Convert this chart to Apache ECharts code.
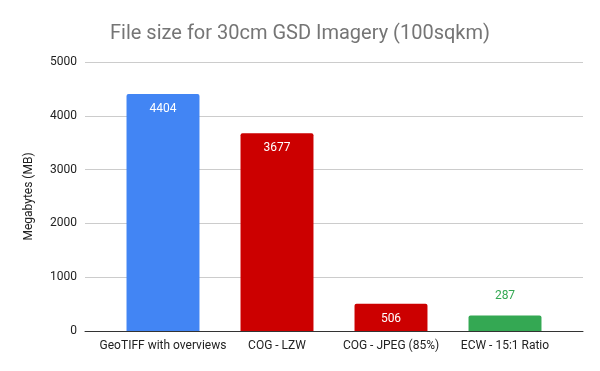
<!DOCTYPE html>
<html><head><meta charset="utf-8">
<script src="https://cdn.jsdelivr.net/npm/echarts@6/dist/echarts.min.js"></script>
<style>html,body{margin:0;padding:0;background:#fff}#c{width:600px;height:371px}</style>
</head><body><div id="c"></div>
<script>
const categories = ["GeoTIFF with overviews", "COG - LZW", "COG - JPEG (85%)", "ECW - 15:1 Ratio"];
const values = [4404, 3677, 506, 287];
const barColors = ["#4285F4", "#CC0000", "#CC0000", "#34A853"];
const labelInside = [true, true, true, false];
const yTicks = [0, 1000, 2000, 3000, 4000, 5000];

const yMin = yTicks[0], yMax = yTicks[yTicks.length - 1];
const chart = echarts.init(document.getElementById('c'), null, {renderer: 'canvas'});
chart.setOption({
  animation: false,
  backgroundColor: '#ffffff',
  title: {
    text: 'File size for 30cm GSD Imagery (100sqkm)',
    left: 'center', top: 19,
    textStyle: {fontFamily: 'Roboto', fontSize: 20, fontWeight: 'normal', color: '#757575'}
  },
  grid: [
    {left: 85, right: 17, top: 62, bottom: 40},
    {left: 106, right: 38, top: 62, bottom: 40}
  ],
  xAxis: [
    {
      type: 'value', gridIndex: 0, min: 0, max: 1,
      axisLine: {show: true, lineStyle: {color: '#333333', width: 1}},
      axisTick: {show: false}, axisLabel: {show: false}, splitLine: {show: false}
    },
    {
      type: 'category', gridIndex: 1, data: categories,
      axisLine: {show: false},
      axisTick: {show: false},
      axisLabel: {interval: 0, fontFamily: 'Roboto', fontSize: 12, color: '#222222', margin: 9}
    }
  ],
  yAxis: [
    {
      type: 'value', gridIndex: 0, min: yMin, max: yMax, interval: 1000,
      name: 'Megabytes (MB)', nameLocation: 'middle', nameGap: 50,
      nameTextStyle: {fontFamily: 'Roboto', fontSize: 12, color: '#222222'},
      axisLabel: {fontFamily: 'Roboto', fontSize: 12, color: '#222222', margin: 8, formatter: v => String(v)},
      splitLine: {lineStyle: {color: '#cccccc'}},
      axisLine: {show: false}, axisTick: {show: false}
    },
    {
      type: 'value', gridIndex: 1, min: yMin, max: yMax, interval: 1000,
      axisLabel: {show: false}, splitLine: {show: false},
      axisLine: {show: false}, axisTick: {show: false}
    }
  ],
  series: [{
    type: 'bar',
    xAxisIndex: 1, yAxisIndex: 1,
    barWidth: '64%',
    data: values.map((v, i) => ({
      value: v,
      itemStyle: {color: barColors[i], borderRadius: [2, 2, 0, 0]},
      label: labelInside[i]
        ? {show: true, position: 'insideTop', distance: 9, color: '#ffffff', fontFamily: 'Roboto', fontSize: 12}
        : {show: true, position: 'top', distance: 14, color: barColors[i], fontFamily: 'Roboto', fontSize: 12}
    }))
  }]
});
</script></body></html>
